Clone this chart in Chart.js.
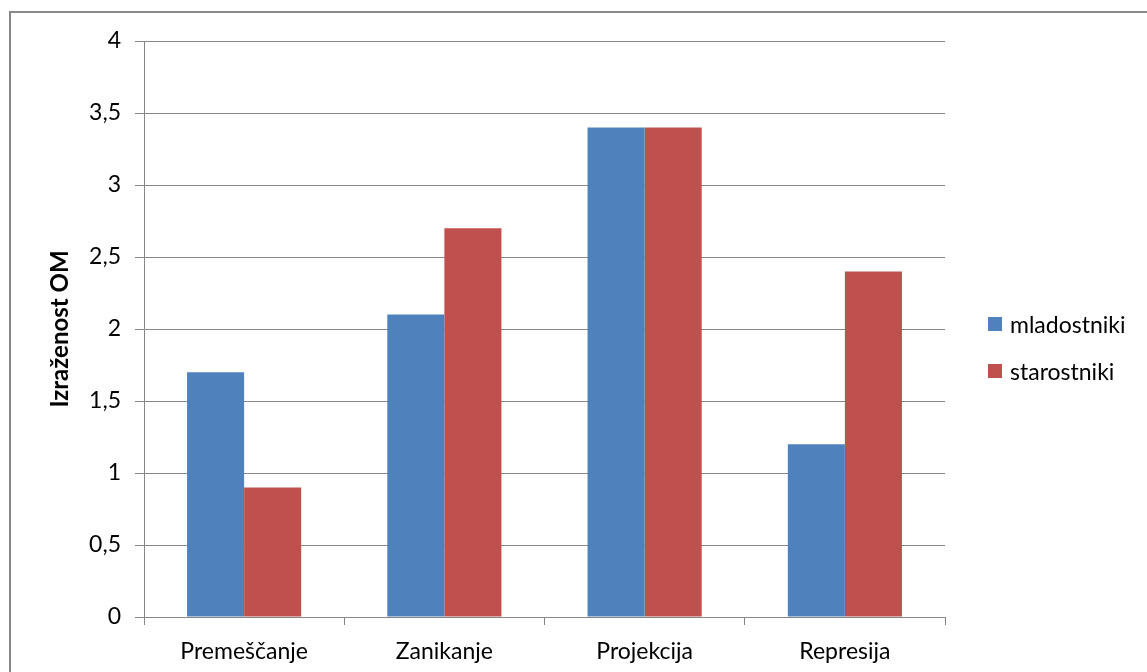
<!DOCTYPE html>
<html>
<head>
<meta charset="utf-8">
<script src="https://cdn.jsdelivr.net/npm/chart.js@4"></script>
<style>
  html, body { margin: 0; padding: 0; background: #fff; }
  #wrap { position: relative; width: 1147px; height: 672px; overflow: hidden; }
  #frame { position: absolute; left: 9px; top: 11px; width: 1200px; height: 700px;
           border: 2px solid #888; box-sizing: border-box; }
  #chart { position: absolute; left: 0; top: 0; }
  .legend { position: absolute; left: 988px; font-family: Lato, sans-serif; font-size: 23px; color: #000; }
  .legend div { position: relative; height: 47px; padding-left: 22px; line-height: 28px; }
  .legend span { position: absolute; left: 0; top: 7px; width: 14px; height: 14px; }
</style>
</head>
<body>
<div id="wrap">
  <div id="frame"></div>
  <canvas id="chart" width="1147" height="672"></canvas>
  <div class="legend" id="legend" style="top:310px;"></div>
</div>
<script>
  // --- podatki ---
  const categories = ["Premeščanje", "Zanikanje", "Projekcija", "Represija"];
  const mladostniki = [1.7, 2.1, 3.4, 1.2];
  const starostniki = [0.9, 2.7, 3.4, 2.4];
  const seriesNames = ["mladostniki", "starostniki"];
  const seriesColors = ["#4F81BD", "#C0504D"];
  const yTitle = "Izraženost OM";

  const FONT = "Lato, sans-serif";
  const GRID = "#868686";

  const chart = new Chart(document.getElementById("chart"), {
    type: "bar",
    data: {
      labels: categories,
      datasets: [
        { label: seriesNames[0], data: mladostniki, backgroundColor: seriesColors[0] },
        { label: seriesNames[1], data: starostniki, backgroundColor: seriesColors[1] },
      ],
    },
    options: {
      responsive: false,
      animation: false,
      barPercentage: 1,
      categoryPercentage: 0.57,
      layout: { padding: { left: 0, top: 41, right: 202, bottom: 0 } },
      plugins: { legend: { display: false }, tooltip: { enabled: false } },
      scales: {
        x: {
          grid: { offset: true, drawOnChartArea: false, drawTicks: true, tickLength: 8, color: GRID, lineWidth: 1 },
          border: { color: GRID, width: 1 },
          ticks: { color: "#000", font: { family: FONT, size: 23 }, padding: 13, maxRotation: 0 },
          afterFit: (s) => { s.height = 55; },
        },
        y: {
          min: 0,
          max: 4,
          ticks: {
            stepSize: 0.5,
            color: "#000",
            font: { family: FONT, size: 23 },
            padding: 14,
            callback: (v) => String(v).replace(".", ","),
          },
          grid: { color: GRID, lineWidth: 1, tickLength: 9 },
          border: { color: GRID, width: 1 },
          title: {
            display: true,
            text: yTitle,
            color: "#000",
            font: { family: FONT, size: 24, weight: "bold" },
            padding: { top: 46, bottom: 0 },
          },
          afterFit: (s) => { s.width = 144; },
        },
      },
    },
  });

  // legenda desno
  document.getElementById("legend").innerHTML = seriesNames
    .map((n, i) => `<div><span style="background:${seriesColors[i]}"></span>${n}</div>`)
    .join("");
</script>
</body>
</html>
